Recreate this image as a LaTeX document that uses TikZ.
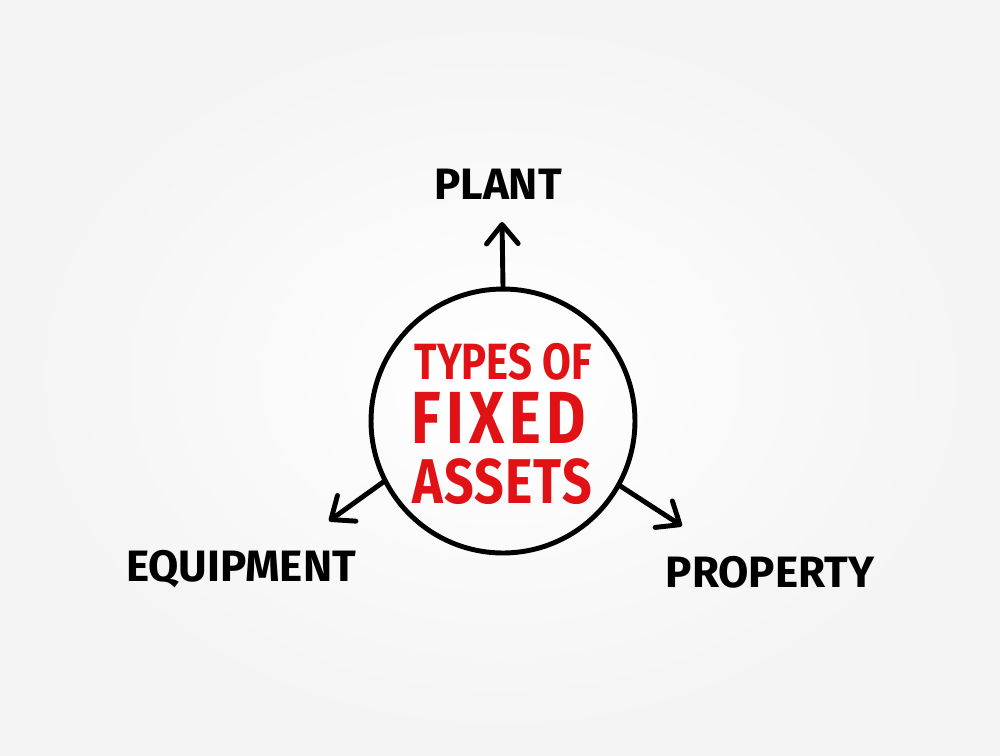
\documentclass[tikz,border=0pt]{standalone}
\usepackage{fontspec}
\setmainfont{Fira Sans}
\newfontfamily\narrowfont[FakeStretch=0.82]{Fira Sans}
\usetikzlibrary{arrows.meta}
\definecolor{markred}{RGB}{224,18,22}
\def\lw{2.8pt}

\begin{document}
\begin{tikzpicture}[x=0.02cm, y=-0.02cm,
  label/.style={inner sep=0, text depth=0pt, font=\bfseries\fontsize{25}{25}\selectfont},
  title/.style={inner sep=0, text depth=0pt, text=markred},
  arr/.style={line width=\lw, line cap=round, -{Straight Barb[length=11pt, width=18pt, round]}}]
% paper
\shade[inner color=white, outer color=gray!9] (0,0) rectangle (1000,755);
\useasboundingbox (0,0) rectangle (1000,755);

% centre circle
\node[draw, circle, line width=\lw, minimum size=5.28cm, inner sep=0] (core) at (503,421) {};
\node[title, font=\narrowfont\bfseries\fontsize{29}{29}\selectfont] (t1) at (503,361) {TYPES OF};
\node[title, font=\narrowfont\bfseries\fontsize{42}{42}\selectfont\addfontfeature{LetterSpace=7}] (t2) at (499,418) {FIXED};
\node[title, font=\narrowfont\bfseries\fontsize{36}{36}\selectfont\addfontfeature{LetterSpace=2}] (t3) at (502,481) {ASSETS};

% the three kinds
\node[label] (plant) at (498,184) {PLANT};
\node[label] (equip) at (241,566) {EQUIPMENT};
\node[label] (prop) at (770,572) {PROPERTY};

% arrow tips
\coordinate (pt) at (502,222);
\coordinate (et) at (329,521);
\coordinate (rt) at (682,526);

\draw[arr] (core.north) -- (pt);
\draw[arr] (core.207) -- (et);
\draw[arr] (core.331) -- (rt);
\end{tikzpicture}
\end{document}
